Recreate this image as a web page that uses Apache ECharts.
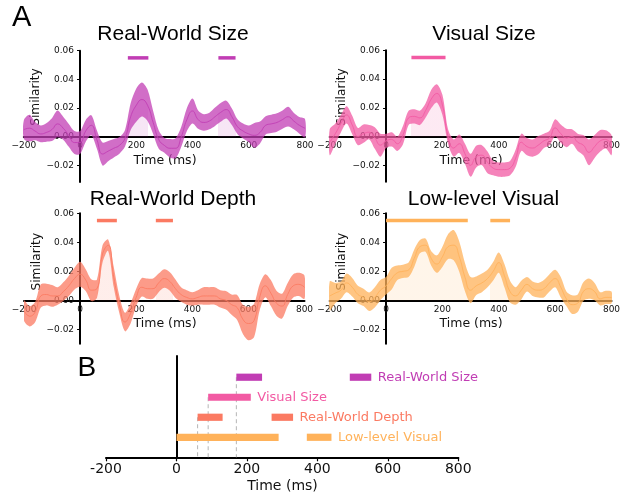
<!DOCTYPE html>
<html><head><meta charset="utf-8">
<script src="https://cdn.jsdelivr.net/npm/echarts@6/dist/echarts.min.js"></script>
<style>html,body{margin:0;padding:0;background:#fff}#c{width:628px;height:495px}</style>
</head><body><div id="c"></div>
<script>
// ---------------- data ----------------
const times = [-200,-180,-160,-140,-120,-100,-80,-60,-40,-20,0,20,40,60,80,100,120,140,160,180,200,220,240,260,280,300,320,340,360,380,400,420,440,460,480,500,520,540,560,580,600,620,640,660,680,700,720,740,760,780,800];

const sizeMean = [0.005,0.006,0.004,0.002,0.003,0.005,0.009,0.006,0.001,-0.004,-0.004,0.004,0.008,-0.002,-0.012,-0.010,-0.008,-0.006,-0.001,0.014,0.022,0.026,0.022,0.010,-0.002,-0.006,-0.008,-0.008,0.000,0.012,0.018,0.012,0.010,0.011,0.014,0.017,0.019,0.014,0.007,0.004,0.002,0.001,0.003,0.008,0.009,0.010,0.012,0.014,0.011,0.008,0.006];
const sizeSem = [0.0064,0.0093,0.0064,0.0058,0.0064,0.008,0.0093,0.008,0.008,0.008,0.008,0.0076,0.007,0.0064,0.008,0.007,0.0064,0.0058,0.0058,0.0093,0.0116,0.0119,0.011,0.008,0.0064,0.0052,0.0064,0.007,0.007,0.008,0.0087,0.0064,0.0058,0.0058,0.0064,0.0066,0.0062,0.0058,0.0052,0.0052,0.0058,0.0087,0.0076,0.0064,0.0064,0.0064,0.0064,0.0069,0.0058,0.0058,0.0064];
const sizeSig = [[170,243],[492,553]];

const visualMean = [-0.004,0.002,0.009,0.015,0.008,0.000,0.002,0.003,-0.001,-0.006,-0.003,-0.002,-0.005,0.001,0.013,0.014,0.013,0.018,0.026,0.030,0.022,0.000,-0.008,-0.005,-0.012,-0.020,-0.014,-0.013,-0.018,-0.022,-0.023,-0.023,-0.022,-0.015,-0.004,-0.007,-0.008,-0.006,-0.003,-0.001,0.006,0.002,-0.001,0.000,-0.004,-0.006,-0.011,-0.007,-0.003,-0.002,-0.006];
const visualSem = [0.009,0.007,0.006,0.006,0.0064,0.006,0.0064,0.005,0.0075,0.008,0.005,0.005,0.005,0.0064,0.005,0.005,0.005,0.005,0.0064,0.0064,0.007,0.005,0.006,0.0064,0.007,0.008,0.0075,0.007,0.0075,0.005,0.005,0.005,0.005,0.006,0.006,0.006,0.006,0.0064,0.005,0.005,0.006,0.0064,0.0064,0.005,0.006,0.007,0.009,0.008,0.0075,0.0064,0.007];
const visualSig = [[90,211]];

const depthMean = [-0.007,-0.011,-0.008,0.003,0.004,0.003,0.003,0.006,0.010,0.015,0.018,0.014,0.007,0.008,0.032,0.038,0.016,-0.003,-0.015,-0.009,0.002,0.009,0.008,0.008,0.012,0.015,0.013,0.008,0.004,0.002,0.001,0.002,0.003,0.003,0.003,0.001,0.000,-0.003,-0.005,-0.013,-0.016,-0.014,0.002,0.010,0.005,-0.002,-0.004,0.004,0.010,0.011,0.009];
const depthSem = [0.007,0.007,0.007,0.008,0.0075,0.0075,0.006,0.0064,0.007,0.0075,0.0086,0.0075,0.0075,0.0064,0.006,0.004,0.007,0.006,0.0064,0.007,0.006,0.0064,0.007,0.007,0.0064,0.0064,0.0064,0.0064,0.005,0.005,0.0046,0.005,0.006,0.006,0.006,0.006,0.0064,0.007,0.0086,0.010,0.0115,0.0115,0.009,0.008,0.009,0.0086,0.0086,0.008,0.008,0.008,0.008];
const depthSig = [[60,131],[270,331]];

const lowMean = [0.003,0.005,0.007,0.012,0.009,0.004,0.002,-0.001,0.002,0.007,0.010,0.015,0.019,0.020,0.021,0.029,0.037,0.038,0.029,0.025,0.030,0.037,0.038,0.030,0.016,0.007,0.010,0.012,0.015,0.020,0.026,0.017,0.006,0.003,0.007,0.011,0.008,0.007,0.008,0.012,0.015,0.009,0.001,-0.003,-0.002,0.006,0.008,0.006,0.001,0.002,0.002];
const lowSem = [0.010,0.007,0.006,0.0064,0.0064,0.006,0.006,0.0064,0.007,0.007,0.006,0.0075,0.005,0.0046,0.005,0.006,0.0046,0.0046,0.005,0.006,0.007,0.0086,0.0104,0.0104,0.0098,0.009,0.0064,0.0064,0.006,0.0064,0.007,0.008,0.0075,0.006,0.0064,0.005,0.005,0.005,0.006,0.006,0.006,0.007,0.005,0.0064,0.006,0.0064,0.007,0.006,0.0046,0.0046,0.004];
const lowSig = [[0,290],[370,440]];

const yTickValues = [-0.02, 0.00, 0.02, 0.04, 0.06];
const sigLevel = 0.055;

const rowNames = ['Real-World Size','Visual Size','Real-World Depth','Low-level Visual'];
const rowLevels = [4, 3, 2, 1];

// ---------------- styling / layout ----------------
const FONT = 'DejaVu Sans';
const TFONT = 'Liberation Sans';
const colors = ['#c13db4', '#f25aa3', '#fb7a62', '#ffb25a'];
function rgba(hex, a){const n=parseInt(hex.slice(1),16);return 'rgba('+(n>>16&255)+','+(n>>8&255)+','+(n&255)+','+a+')';}

const panels = [
  {title:rowNames[0], mean:sizeMean, sem:sizeSem, sig:sizeSig, color:colors[0],
   grid:{left:23.8, top:50.7, width:281.2, height:131.3}, ymin:-0.0315, tx:173, ty:34.5, sx:36, sy:97, lx:165, ly:161},
  {title:rowNames[1], mean:visualMean, sem:visualSem, sig:visualSig, color:colors[1],
   grid:{left:329.7, top:50.3, width:281.8, height:131.5}, ymin:-0.0315, tx:484, ty:34.5, sx:342, sy:97, lx:471, ly:161},
  {title:rowNames[2], mean:depthMean, sem:depthSem, sig:depthSig, color:colors[2],
   grid:{left:24, top:213.3, width:280.5, height:130.5}, ymin:-0.030, tx:173, ty:199.5, sx:36.5, sy:261.7, lx:165, ly:324},
  {title:rowNames[3], mean:lowMean, sem:lowSem, sig:lowSig, color:colors[3],
   grid:{left:329.7, top:213.3, width:281.8, height:130.5}, ymin:-0.030, tx:483.5, ty:199.5, sx:342, sy:261.7, lx:471, ly:324}
];

const grids = [], xAxes = [], yAxes = [], series = [], visualMaps = [], graphics = [];
const minus = s => String(s).replace('-', '\u2212');

panels.forEach((p, i) => {
  const g = p.grid;
  grids.push(Object.assign({outerBoundsMode:'none', containLabel:false}, g));
  // distance of the zero lines from the grid's bottom / left edge
  const zeroFromBottom = g.height * (0 - p.ymin) / (0.06 - p.ymin);
  const zeroFromLeft = g.width * (0 - (-200)) / (800 - (-200));
  xAxes.push({type:'value', gridIndex:i, min:-200, max:800, interval:200,
    axisLine:{onZero:true, lineStyle:{color:'#000', width:2}},
    axisTick:{show:false},
    axisLabel:{fontFamily:FONT, fontSize:9, color:'#111', margin:4.5 - zeroFromBottom, formatter:v=>minus(v)},
    splitLine:{show:false}});
  yAxes.push({type:'value', gridIndex:i, min:p.ymin, max:0.06,
    axisLine:{show:true, onZero:true, lineStyle:{color:'#000', width:2}},
    axisTick:{show:true, length:3, customValues:yTickValues, lineStyle:{color:'#000', width:1}},
    axisLabel:{fontFamily:FONT, fontSize:9, color:'#111', margin:6 - zeroFromLeft, customValues:yTickValues,
      formatter:v=>minus(v.toFixed(2))},
    splitLine:{show:false}});

  const meanData = times.map((t,j)=>[t, p.mean[j]]);
  // light fill under the mean within significant windows
  visualMaps.push({type:'piecewise', show:false, seriesIndex:series.length, dimension:0,
    pieces:p.sig.map(w=>({gte:w[0], lte:w[1], color:rgba(p.color,0.13)})),
    outOfRange:{color:'rgba(255,255,255,0)'}});
  series.push({type:'line', xAxisIndex:i, yAxisIndex:i, data:meanData, smooth:true, symbol:'none',
    lineStyle:{opacity:0}, areaStyle:{opacity:1}, silent:true, z:1});
  // SEM band (mean ± sem) as one smoothed polygon
  series.push({type:'custom', xAxisIndex:i, yAxisIndex:i, data:[[0]], clip:true,
    renderItem:(params, api)=>{
      const up = times.map((t,j)=>api.coord([t, p.mean[j] + p.sem[j]]));
      const lo = times.map((t,j)=>api.coord([t, p.mean[j] - p.sem[j]])).reverse();
      return {type:'polygon', shape:{points:up.concat(lo), smooth:0.3}, style:{fill:rgba(p.color,0.75)}};
    }, silent:true, z:2});
  // mean line
  series.push({type:'line', xAxisIndex:i, yAxisIndex:i, data:meanData, smooth:true, symbol:'none',
    lineStyle:{color:p.color, width:1, opacity:0.85}, silent:true, z:3});
  // significance bars
  series.push({type:'custom', xAxisIndex:i, yAxisIndex:i, data:p.sig.map(w=>[w[0], w[1], sigLevel]),
    renderItem:(params, api)=>{
      const a = api.coord([api.value(0), api.value(2)]);
      const b = api.coord([api.value(1), api.value(2)]);
      return {type:'rect', shape:{x:a[0], y:a[1]-1.75, width:b[0]-a[0], height:3.5}, style:{fill:p.color}};
    }, silent:true, z:4});

  graphics.push({type:'text', x:p.tx, y:p.ty, style:{text:p.title, font:'21px "'+TFONT+'"', fill:'#000', align:'center', verticalAlign:'middle'}});
  graphics.push({type:'text', x:p.sx, y:p.sy, rotation:Math.PI/2, style:{text:'Similarity', font:'12.2px "'+FONT+'"', fill:'#111', align:'center', verticalAlign:'middle'}});
  graphics.push({type:'text', x:p.lx, y:p.ly, style:{text:'Time (ms)', font:'12.5px "'+FONT+'"', fill:'#111', align:'center', verticalAlign:'middle'}});
});

// ---------------- panel B ----------------
const bi = 4;
const sigs = [sizeSig, visualSig, depthSig, lowSig];
grids.push({left:106, top:356, width:352.3, height:101.3, outerBoundsMode:'none', containLabel:false});
xAxes.push({type:'value', gridIndex:bi, min:-200, max:800, interval:200,
  axisLine:{onZero:true, lineStyle:{color:'#000', width:2}},
  axisTick:{show:true, length:4, lineStyle:{color:'#000', width:1.2}},
  axisLabel:{fontFamily:FONT, fontSize:14, color:'#111', margin:5},
  splitLine:{show:false}});
yAxes.push({type:'value', gridIndex:bi, min:0, max:5.06,
  axisLine:{show:true, onZero:true, lineStyle:{color:'#000', width:2}},
  axisTick:{show:false}, axisLabel:{show:false}, splitLine:{show:false}});

const onsetData = [[depthSig[0][0], rowLevels[2]], [visualSig[0][0], rowLevels[1]], [sizeSig[0][0], rowLevels[0]]];
series.push({type:'custom', xAxisIndex:bi, yAxisIndex:bi, data:onsetData,
  renderItem:(params, api)=>{
    const a = api.coord([api.value(0), api.value(1)]);
    const b = api.coord([api.value(0), 0]);
    return {type:'line', shape:{x1:a[0], y1:a[1], x2:b[0], y2:b[1]}, style:{stroke:'#b5b5b5', lineWidth:1, lineDash:[4,3]}};
  }, silent:true, z:1});

const barData = [];
sigs.forEach((ws, r) => ws.forEach((w, k) => barData.push([w[0], w[1], rowLevels[r], r, k === ws.length-1 ? 1 : 0])));
series.push({type:'custom', xAxisIndex:bi, yAxisIndex:bi, data:barData, clip:false,
  renderItem:(params, api)=>{
    const r = api.value(3);
    const a = api.coord([api.value(0), api.value(2)]);
    const b = api.coord([api.value(1), api.value(2)]);
    const h = 7.2;
    const children = [{type:'rect', shape:{x:a[0], y:a[1]-h/2, width:b[0]-a[0], height:h}, style:{fill:colors[r]}}];
    if (api.value(4) === 1) {
      children.push({type:'text', x:b[0]+6.5, y:a[1], style:{text:rowNames[r], font:'13px "'+FONT+'"', fill:colors[r], align:'left', verticalAlign:'middle'}});
    }
    return {type:'group', children};
  }, silent:true, z:3});

graphics.push({type:'text', x:282.5, y:486.5, style:{text:'Time (ms)', font:'14px "'+FONT+'"', fill:'#111', align:'center', verticalAlign:'middle'}});
graphics.push({type:'text', x:12, y:18, style:{text:'A', font:'29px "'+TFONT+'"', fill:'#000', align:'left', verticalAlign:'middle'}});
graphics.push({type:'text', x:77.5, y:368.5, style:{text:'B', font:'28px "'+TFONT+'"', fill:'#000', align:'left', verticalAlign:'middle'}});

const chart = echarts.init(document.getElementById('c'), null, {renderer:'canvas'});
chart.setOption({
  animation:false, backgroundColor:'#fff',
  grid:grids, xAxis:xAxes, yAxis:yAxes, visualMap:visualMaps, series:series, graphic:graphics
});
</script></body></html>
